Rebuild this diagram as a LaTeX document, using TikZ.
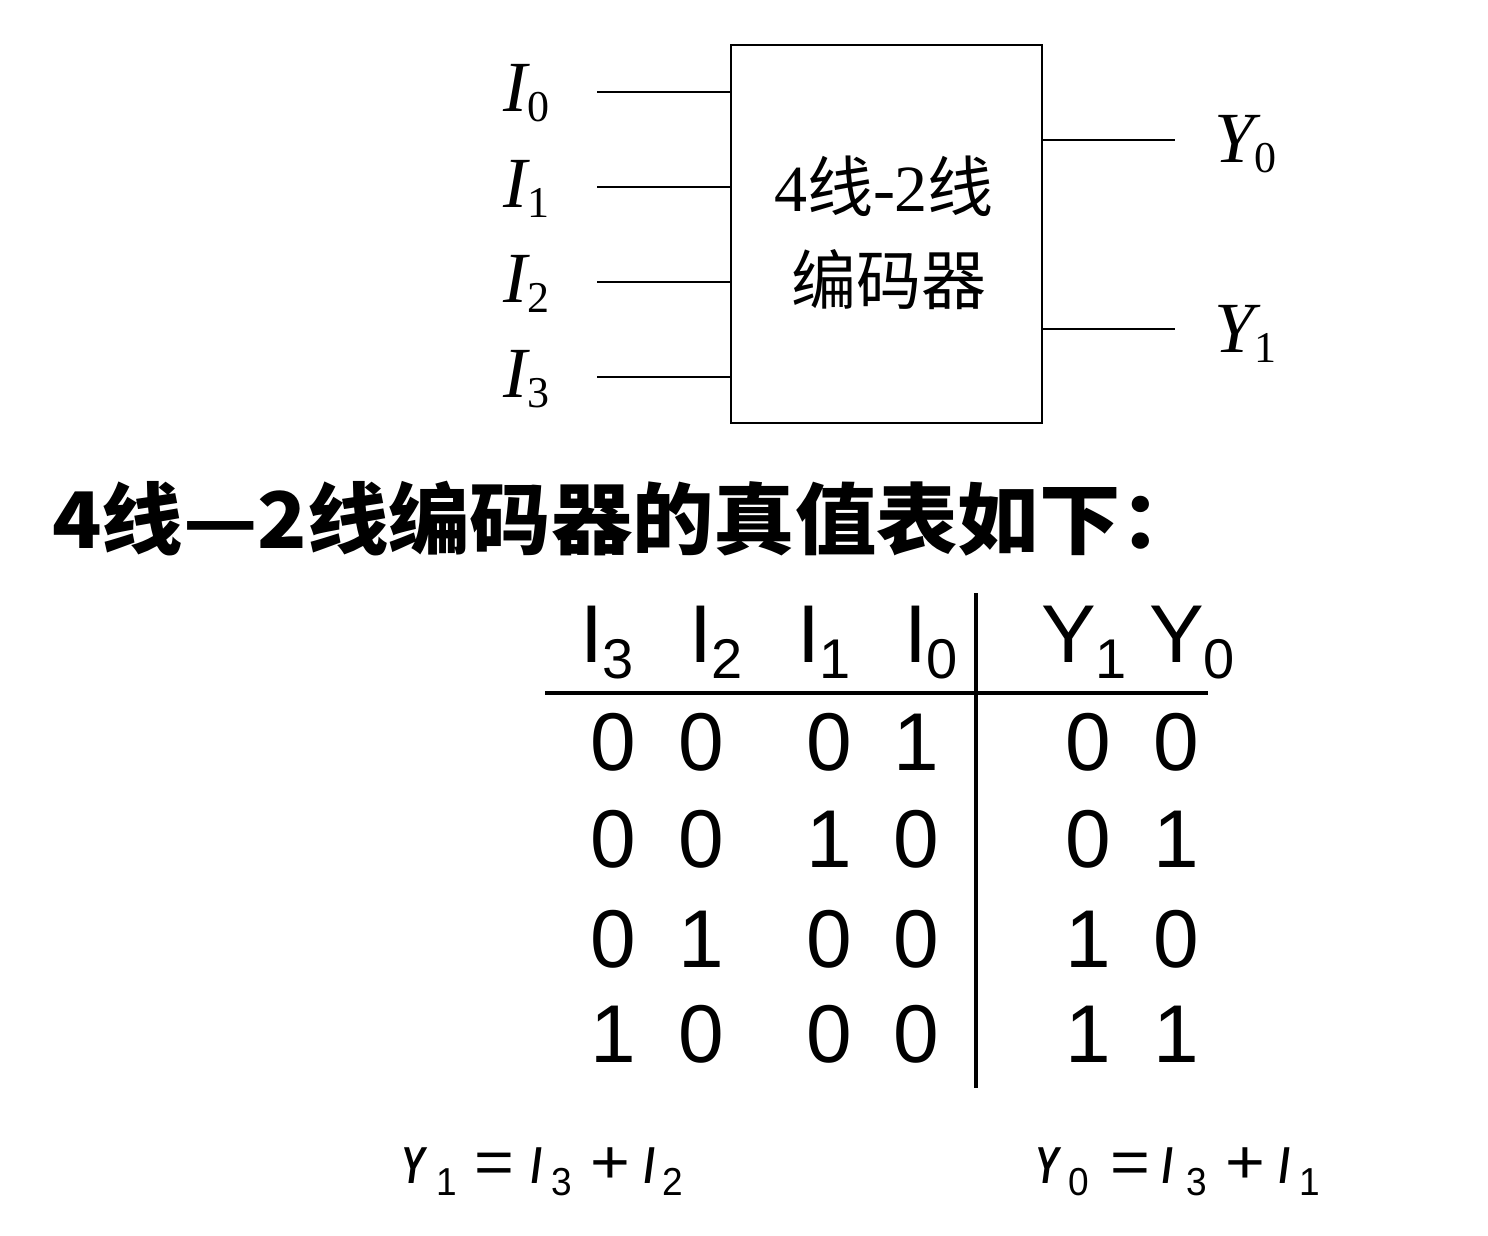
\documentclass[tikz,border=0pt]{standalone}
\usepackage{fontspec}
\setmainfont{Liberation Serif}
\newfontfamily\sansA{Liberation Sans}
\newfontfamily\cjk{Noto Sans CJK SC}
\newcommand\lowsub[3]{\raisebox{-#1}{\fontsize{#2}{#2}\selectfont\mdseries #3}}
\newcommand\condL[1]{\scalebox{0.68}[1]{\bfseries\itshape #1}}
\newcommand\condD[1]{\scalebox{0.95}[1]{#1}}
\newcommand\wideop[1]{{\fontsize{62}{66}\selectfont\scalebox{1.1}[1]{#1}}}
\begin{document}
\begin{tikzpicture}[x=1pt,y=-1pt,
  thinline/.style={line width=1.3pt},
  tabline/.style={line width=3.5pt},
  pinlbl/.style={inner sep=0pt, anchor=base west, font=\fontsize{72}{80}\selectfont\itshape},
  boxtxt/.style={inner sep=0pt, anchor=base},
  cell/.style={inner sep=0pt, anchor=base, font=\sansA\fontsize{82}{90}\selectfont},
  head/.style={inner sep=0pt, anchor=base west, font=\sansA\fontsize{82}{90}\selectfont},
  eq/.style={inner sep=0pt, anchor=base west, font=\sansA\fontsize{52}{60}\selectfont},
  blockbox/.style={draw, thinline, inner sep=0pt, minimum width=311pt, minimum height=378pt}]
\useasboundingbox (0,0) rectangle (1488,1236);

% encoder block
\node[blockbox] (box) at (886.5,234) {};
\node[boxtxt] (t1) at (884,211) {\fontsize{66}{70}\selectfont 4{\cjk 线}-2{\cjk 线}};
\node[boxtxt] (t2) at (889,304) {\cjk\fontsize{65}{70}\selectfont 编码器};

% inputs
\coordinate (in0) at (597,92);
\coordinate (in1) at (597,187);
\coordinate (in2) at (597,282);
\coordinate (in3) at (597,377);
\foreach \k in {0,1,2,3} {\draw[thinline] (in\k) -- (in\k -| box.west);}
\node[pinlbl] (lI0) at (503,112) {I\lowsub{10pt}{44}{\upshape 0}};
\node[pinlbl] (lI1) at (503,207) {I\lowsub{10pt}{44}{\upshape 1}};
\node[pinlbl] (lI2) at (503,302) {I\lowsub{10pt}{44}{\upshape 2}};
\node[pinlbl] (lI3) at (503,397) {I\lowsub{10pt}{44}{\upshape 3}};

% outputs
\coordinate (out0) at (1175,140);
\coordinate (out1) at (1175,329);
\draw[thinline] (out0 -| box.east) -- (out0);
\draw[thinline] (out1 -| box.east) -- (out1);
\node[pinlbl] (lY0) at (1214,162) {Y\lowsub{10pt}{44}{\upshape 0}};
\node[pinlbl] (lY1) at (1214,352) {Y\lowsub{10pt}{44}{\upshape 1}};

% title
\node[inner sep=0pt, anchor=base west] (title) at (52,548)
  {\scalebox{1.043}[1]{\cjk\bfseries\fontsize{78}{80}\selectfont 4线—2线编码器的真值表如下：}};

% truth table header
\node[head] (h3) at (580,662) {I\lowsub{16pt}{56}{3}};
\node[head] (h2) at (689,662) {I\lowsub{16pt}{56}{2}};
\node[head] (h1) at (797,662) {I\lowsub{16pt}{56}{1}};
\node[head] (h0) at (904,662) {I\lowsub{16pt}{56}{0}};
\node[head] (hy1) at (1041,662) {Y\lowsub{16pt}{56}{1}};
\node[head] (hy0) at (1149,662) {Y\lowsub{16pt}{56}{0}};

% table rules
\coordinate (hl) at (545,693);
\coordinate (hr) at (1208,693);
\coordinate (vt) at (976,593);
\coordinate (vb) at (976,1088);
\draw[tabline] (hl) -- (hr);
\draw[tabline] (vt) -- (vb);

% truth table body
\foreach \r/\y/\a/\b/\c/\d/\e/\f in {1/770/0/0/0/1/0/0, 2/867/0/0/1/0/0/1, 3/967/0/1/0/0/1/0, 4/1062/1/0/0/0/1/1} {
  \node[cell] (c\r-1) at (613,\y) {\a};
  \node[cell] (c\r-2) at (701,\y) {\b};
  \node[cell] (c\r-3) at (829,\y) {\c};
  \node[cell] (c\r-4) at (916,\y) {\d};
  \node[cell] (c\r-5) at (1088,\y) {\e};
  \node[cell] (c\r-6) at (1176,\y) {\f};
}

% equations
\node[eq] (eq1) at (401,1183) {\makebox[35pt][l]{\condL{Y}}\makebox[38pt][l]{\lowsub{12pt}{39}{\condD{1}}}\makebox[57pt][l]{\wideop{=}}\makebox[20pt][l]{\condL{I}}\makebox[39pt][l]{\lowsub{12pt}{39}{\condD{3}}}\makebox[54pt][l]{\wideop{+}}\makebox[18pt][l]{\condL{I}}\lowsub{12pt}{39}{\condD{2}}};
\node[eq] (eq2) at (1035,1183) {\makebox[33pt][l]{\condL{Y}}\makebox[42pt][l]{\lowsub{12pt}{39}{\condD{0}}}\makebox[52pt][l]{\wideop{=}}\makebox[24pt][l]{\condL{I}}\makebox[39pt][l]{\lowsub{12pt}{39}{\condD{3}}}\makebox[54pt][l]{\wideop{+}}\makebox[20pt][l]{\condL{I}}\lowsub{12pt}{39}{\condD{1}}};
\end{tikzpicture}
\end{document}
